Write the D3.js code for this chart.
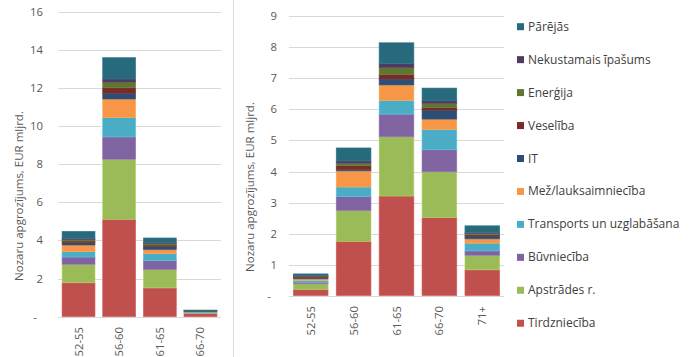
<!DOCTYPE html>
<html>
<head>
<meta charset="utf-8">
<script src="https://cdn.jsdelivr.net/npm/d3@7"></script>
<style>
body{margin:0;background:#fff;}
svg{display:block;font-family:"Open Sans",sans-serif;}
</style>
</head>
<body>
<svg id="c" width="700" height="357"></svg>
<script>
const series = ["Tirdzniecība","Apstrādes r.","Būvniecība","Transports un uzglabāšana","Mež/lauksaimniecība","IT","Veselība","Enerģija","Nekustamais īpašums","Pārējās"];
const colors = ["#C0504D","#9BBB59","#8064A2","#4BACC6","#F79646","#2C4D75","#772C2A","#5F7530","#4D3B62","#276A7C"];

const leftCats = ["52-55","56-60","61-65","66-70"];
const leftValues = [
  [1.78,0.97,0.38,0.28,0.35,0.12,0.09,0.07,0.07,0.37],
  [5.11,3.15,1.17,1.01,0.98,0.30,0.29,0.30,0.16,1.12],
  [1.51,0.96,0.47,0.37,0.21,0.17,0.07,0.07,0.05,0.25],
  [0.17,0.03,0.02,0.04,0.01,0.03,0.01,0.01,0.01,0.02]
];
const leftTicks = ["-","2","4","6","8","10","12","14","16"];

const rightCats = ["52-55","56-60","61-65","66-70","71+"];
const rightValues = [
  [0.20,0.18,0.05,0.05,0.06,0.05,0.02,0.02,0.02,0.05],
  [1.75,0.99,0.45,0.31,0.52,0.05,0.12,0.08,0.07,0.42],
  [3.21,1.91,0.73,0.44,0.50,0.19,0.14,0.23,0.13,0.67],
  [2.51,1.48,0.71,0.65,0.34,0.29,0.08,0.14,0.08,0.41],
  [0.83,0.47,0.14,0.25,0.14,0.09,0.04,0.04,0.03,0.22]
];
const rightTicks = ["-","1","2","3","4","5","6","7","8","9"];

const yTitle = "Nozaru apgrozījums, EUR mljrd.";
const svg = d3.select("#c");

// divider
svg.append("line").attr("x1",233.5).attr("x2",233.5).attr("y1",0).attr("y2",357)
  .attr("stroke","#d9d9d9").attr("stroke-width",1);

function panel(cats, values, ticks, opt){
  const x = d3.scaleBand().domain(cats).range([opt.x0,opt.x1]).paddingInner(0.19).paddingOuter(0.1);
  const y = d3.scaleLinear().domain([0, opt.max]).range([opt.y0,opt.y1]);
  const g = svg.append("g");
  const tickVals = d3.range(0, opt.max+0.001, opt.step);
  g.selectAll("line.grid").data(tickVals).join("line")
    .attr("x1",opt.x0).attr("x2",opt.x1)
    .attr("y1",d=>Math.round(y(d))+0.5).attr("y2",d=>Math.round(y(d))+0.5)
    .attr("stroke","#d9d9d9").attr("stroke-width",1);
  g.selectAll("text.yt").data(tickVals).join("text")
    .attr("x",(d,i)=> i===0 ? opt.labX-6 : opt.labX)
    .attr("y",d=>y(d)+4)
    .attr("text-anchor","end").attr("font-size",11.3).attr("fill","#595959")
    .text((d,i)=>ticks[i]);
  const rows = cats.map((c,i)=>{const o={cat:c}; series.forEach((s,j)=>o[s]=values[i][j]); return o;});
  const stack = d3.stack().keys(series)(rows);
  stack.forEach((layer,j)=>{
    g.selectAll(null).data(layer).join("rect")
      .attr("x",d=>x(d.data.cat))
      .attr("width",x.bandwidth())
      .attr("y",d=>y(d[1]))
      .attr("height",d=>Math.max(0,y(d[0])-y(d[1])))
      .attr("fill",colors[j])
      .attr("stroke",d3.color(colors[j]).brighter(0.4))
      .attr("stroke-width",0.6);
  });
  g.selectAll("text.xt").data(cats).join("text")
    .attr("transform",d=>`translate(${x(d)+x.bandwidth()/2+4},${opt.xlabY}) rotate(-90)`)
    .attr("text-anchor","end").attr("font-size",11.3).attr("fill","#595959")
    .text(d=>d);
  svg.append("text")
    .attr("transform",`translate(${opt.titleX},${opt.titleY}) rotate(-90)`)
    .attr("text-anchor","middle").attr("font-size",11.5).attr("fill","#595959")
    .text(yTitle);
}

panel(leftCats, leftValues, leftTicks, {x0:58,x1:221,y0:316.7,y1:11.7,max:16,step:2,labX:43,xlabY:327,titleX:23,titleY:196});
panel(rightCats, rightValues, rightTicks, {x0:289,x1:504,y0:295.6,y1:16.4,max:9,step:1,labX:277,xlabY:306,titleX:254,titleY:187});

// legend
const leg = svg.append("g");
const legOrder = series.slice().reverse();
legOrder.forEach((s,i)=>{
  const cy = 26.7 + i*32.95;
  const ci = series.indexOf(s);
  leg.append("rect").attr("x",517).attr("y",cy-3.5).attr("width",7).attr("height",7).attr("fill",colors[ci]);
  leg.append("text").attr("x",528).attr("y",cy+4).attr("font-size",12).attr("fill","#404040").text(s);
});
</script>
</body>
</html>
